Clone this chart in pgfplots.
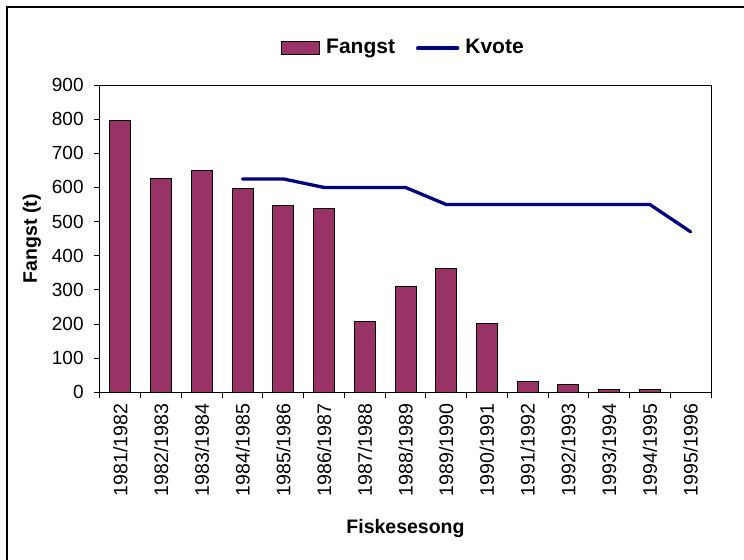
\documentclass[border=0pt]{standalone}
\usepackage{fontspec}
\setmainfont{Liberation Sans}
\usepackage{pgfplots}
\pgfplotsset{compat=1.18}
\definecolor{fangstPlum}{RGB}{153,51,102}
\definecolor{kvoteNavy}{RGB}{0,0,128}
\pgfplotsset{
  box legend/.style={legend image code/.code={\draw[#1] (0pt,-3.25pt) rectangle (19pt,3.25pt);}},
  dash legend/.style={legend image code/.code={\draw[#1] (0pt,0pt) -- (20pt,0pt);}},
}

\begin{document}
\begin{tikzpicture}
  % 1 px of the reference = 0.5pt
  \begin{axis}[
    at={(50pt,-196.15pt)}, anchor=south west,
    scale only axis,
    width=305.5pt, height=153.65pt,
    xmin=-0.5, xmax=14.5,
    ymin=0, ymax=900,
    ytick={0,100,...,900},
    xtick={0,...,14},
    xticklabels={1981/1982,1982/1983,1983/1984,1984/1985,1985/1986,1986/1987,1987/1988,1988/1989,1989/1990,1990/1991,1991/1992,1992/1993,1993/1994,1994/1995,1995/1996},
    minor xtick={-0.5,0.5,...,14.5},
    every major x tick/.append style={draw=none},
    tick align=outside,
    tick pos=left,
    major tick length=3pt,
    minor tick length=3pt,
    axis line style={black, line width=0.5pt},
    every tick/.append style={black, line width=0.5pt},
    /pgf/number format/assume math mode=true,
    yticklabel style={font=\fontsize{9.5}{11}\selectfont, anchor=east, inner sep=0pt, xshift=-5pt},
    xticklabel style={font=\fontsize{9.8}{11}\selectfont, rotate=90, anchor=east, inner sep=0pt},
    xticklabel shift=2.5pt,
    xlabel={Fiskesesong},
    ylabel={Fangst (t)},
    label style={font=\fontsize{9.75}{11}\bfseries},
    xlabel style={at={(axis description cs:0.5,-0.461)}, anchor=base},
    ylabel style={at={(axis description cs:-0.1113,0.5)}, anchor=center, rotate=0},
    legend columns=2,
    legend style={
      at={(axis description cs:0.495,1.12)}, anchor=center,
      draw=none, fill=none,
      font=\fontsize{10.5}{12}\bfseries,
      inner sep=0pt,
      nodes={inner sep=0pt},
      /tikz/every odd column/.append style={column sep=3pt},
      /tikz/every even column/.append style={column sep=10.5pt},
    },
  ]
    \addplot[
      ybar, bar width=10.5pt,
      fill=fangstPlum, draw=black, line width=0.5pt,
      box legend,
    ] coordinates {
      (0,796) (1,626) (2,650) (3,598) (4,546) (5,537) (6,206)
      (7,310) (8,362) (9,203) (10,33) (11,23) (12,9) (13,9)
    };
    \addlegendentry{Fangst}
    \addplot[
      color=kvoteNavy, line width=1.65pt, line cap=round,
      dash legend,
    ] coordinates {
      (3,625) (4,625) (5,600) (6,600) (7,600) (8,550) (9,550)
      (10,550) (11,550) (12,550) (13,550) (14,470)
    };
    \addlegendentry{Kvote}
  \end{axis}
  \draw[line width=1pt] (3.35pt,-300pt) -- (3.35pt,-3.5pt) -- (400pt,-3.5pt);
  \pgfresetboundingbox
  \useasboundingbox (0,0) rectangle (372pt,-279.5pt);
\end{tikzpicture}
\end{document}
